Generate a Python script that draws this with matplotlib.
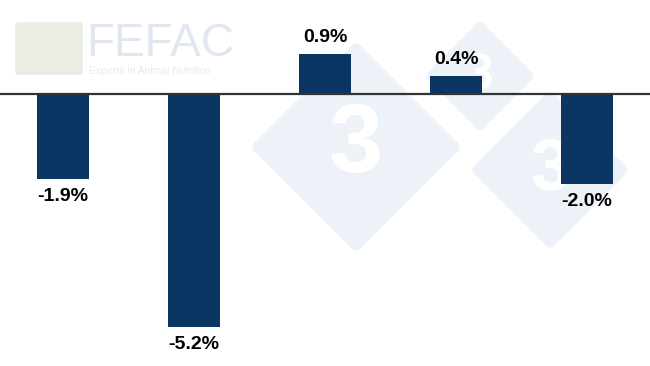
import matplotlib.pyplot as plt
from matplotlib.patches import Polygon

# ==============================
# Data
# ==============================

categories = ["A", "B", "C", "D", "E"]

values = [-1.9, -5.2, 0.9, 0.4, -2.0]

labels = ["-1.9%", "-5.2%", "0.9%", "0.4%", "-2.0%"]

BAR_COLOR = "#0b3562"
MARK_COLOR = "#edf1f8"

W, H = 650, 366


fig = plt.figure(figsize=(6.5, 3.66), dpi=100)
fig.patch.set_facecolor("white")


# ==============================
# Watermark (pixel coordinates -> figure fraction)
# ==============================

def diamond(cx, cy, r):
    pts = [
        (cx / W, 1 - (cy - r) / H),
        ((cx + r) / W, 1 - cy / H),
        (cx / W, 1 - (cy + r) / H),
        ((cx - r) / W, 1 - cy / H),
    ]
    p = Polygon(pts, closed=True, transform=fig.transFigure,
                facecolor=MARK_COLOR, edgecolor=MARK_COLOR,
                linewidth=8, joinstyle="round", zorder=0)
    fig.patches.append(p)


for cx, cy, r, fs in [(356, 147, 98, 70), (480, 76, 48, 36), (550, 170, 72, 52)]:
    diamond(cx, cy, r)
    fig.text(cx / W, 1 - cy / H, "3", color="white", fontsize=fs,
             fontweight="bold", ha="center", va="center",
             family="Liberation Sans", zorder=0)

# FEFAC logo block
logo = Polygon(
    [(18 / W, 1 - 25 / H), (80 / W, 1 - 25 / H),
     (80 / W, 1 - 72 / H), (18 / W, 1 - 72 / H)],
    closed=True, transform=fig.transFigure,
    facecolor="#e9ede4", edgecolor="#e9ede4",
    linewidth=4, joinstyle="round", zorder=0
)
fig.patches.append(logo)

fig.text(86 / W, 1 - 44 / H, "FEFAC", color="#e0e7f1", fontsize=33,
         family="Liberation Sans", ha="left", va="center", zorder=0)

fig.text(89 / W, 1 - 71 / H, "Experts in Animal Nutrition", color="#e6eaf0",
         fontsize=7.5, family="Liberation Sans", ha="left", va="center",
         zorder=0)


# ==============================
# Bars
# ==============================

ax = fig.add_axes([0, 0, 1, 1])
ax.set_zorder(1)
ax.patch.set_alpha(0)

x = list(range(len(categories)))

ax.bar(x, values, width=0.4, color=BAR_COLOR, zorder=2)

ax.axhline(0, color="#333333", linewidth=1.6, zorder=3)

for xi, v, lab in zip(x, values, labels):
    if v >= 0:
        ax.text(xi, v + 0.18, lab, ha="center", va="bottom",
                fontsize=14, fontweight="bold", family="Liberation Sans",
                zorder=4)
    else:
        ax.text(xi, v - 0.2, lab, ha="center", va="top",
                fontsize=14, fontweight="bold", family="Liberation Sans",
                zorder=4)

ax.set_xlim(-0.48, 4.48)
ax.set_ylim(-6.07, 2.10)

ax.axis("off")


plt.savefig("out.png", dpi=100)
plt.close()
